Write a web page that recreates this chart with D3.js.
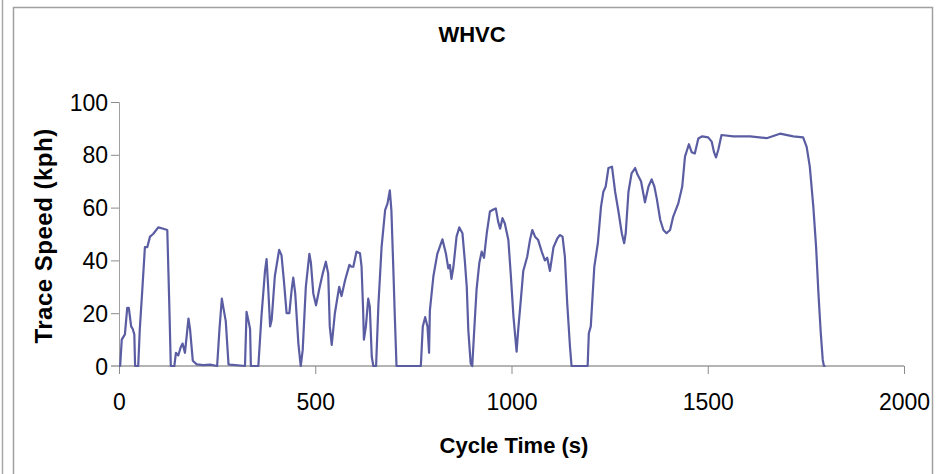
<!DOCTYPE html>
<html>
<head>
<meta charset="utf-8">
<title>WHVC</title>
<script src="https://d3js.org/d3.v7.min.js"></script>
<style type="text/css">
  body { margin: 0; background: #fff; }
  text { font-family: "Liberation Sans", Arial, sans-serif; fill: #000; }
  .tick text { font-size: 23px; }
</style>
</head>
<body>
<svg id="graph" width="944" height="474"></svg>
<script type="text/javascript">

// speed trace (s, kph)
var cycleTime = [0,3,7,15,21,25,31,35,39,41,49,53,59,66,72,79,87,100,113,123,128,132,141,145,151,157,162,168,177,181,188,198,215,232,250,256,262,266,272,279,283,321,325,330,334,336,355,363,372,376,380,385,389,397,408,414,420,427,434,440,444,449,457,463,468,476,485,489,495,502,510,519,527,533,537,542,550,561,567,576,587,592,597,605,614,618,622,624,629,635,639,644,648,655,661,669,678,684,690,694,699,703,707,769,774,780,786,790,792,801,811,824,833,839,843,847,852,860,867,875,881,886,890,896,900,905,911,918,924,930,937,945,954,960,966,971,977,983,992,998,1005,1013,1017,1023,1030,1040,1047,1053,1060,1068,1077,1085,1091,1098,1107,1117,1123,1130,1136,1142,1149,1153,1194,1197,1202,1211,1220,1228,1234,1240,1247,1256,1264,1272,1281,1287,1291,1298,1306,1315,1321,1330,1340,1349,1357,1364,1370,1379,1387,1395,1404,1412,1425,1435,1442,1452,1459,1467,1476,1486,1501,1510,1516,1521,1527,1535,1565,1608,1650,1684,1718,1743,1752,1760,1769,1776,1782,1788,1793,1796,1800]
var traceSpeed = [0,0,10,12,22,22,15,14,12,0,0,14,28,45,45,49,50,52.5,52,51.5,24,0,0,5,4,7,8.5,5,18,14,2,0.6,0.3,0.5,0,14,25.5,22,17,0.6,0.5,0,20.5,17,14,0,0,19,36,40.5,30,15,17.5,34,44,42,32.5,20,20,29,33.5,27.5,8.5,0,6,30,42.5,39,27.5,23,29,35,39.5,35,15,8,20,30,26.5,32.5,38.3,37.6,37.6,43.3,42.7,37.6,21,10,15,25.5,22.5,3.5,0,0,23.5,45,59,61.5,66.5,59,36.5,17.5,0,0,15,18.5,15,5,21,34,42.5,48,42.5,37,38.3,33,37.5,49,52.5,50.3,40,30,13.5,1,0,13.5,29,39,43.3,41,50.3,58.5,59.3,59.7,54.7,52,56,54,47.7,35,18.7,5.4,13.6,23.7,36,41.4,47.7,51.5,49,47.7,43.3,40,41,36,45,48.4,49.6,49,41.4,23.7,7.3,0,0,12.4,15,37.6,46.5,60.3,66,68,75,75.5,66,59,50.3,46.5,50.3,66,73,75,72.5,70,62,68,70.7,68,63.5,55.3,51.5,50.3,51.5,56.6,61.6,68,79.3,84,81,80.5,86.2,87,86.6,85,81,79,82,87.5,87,87,86.3,88,87,86.6,83,75.5,60.3,45.2,27.5,12.4,2.3,0,0]

var xTicks = [0, 500, 1000, 1500, 2000]
var yTicks = [0, 20, 40, 60, 80, 100]
var chartTitle = "WHVC"
var xTitle = "Cycle Time (s)"
var yTitle = "Trace Speed (kph)"

var svg = d3.select("#graph")

// outer frames
svg.append("line")
  .attr("x1", 2.5).attr("x2", 2.5).attr("y1", 0).attr("y2", 474)
  .attr("stroke", "#a8a8a8").attr("stroke-width", 1.5)
svg.append("rect")
  .attr("x", 13.5).attr("y", 7.5).attr("width", 919).attr("height", 480)
  .attr("fill", "none").attr("stroke", "#a0a0a0").attr("stroke-width", 1.5)

var x = d3.scaleLinear().domain([0, 2000]).range([119, 904])
var y = d3.scaleLinear().domain([0, 100]).range([366, 102])

// y axis
var yAxis = svg.append("g")
  .attr("transform", "translate(119,0)")
  .call(d3.axisLeft(y).tickValues(yTicks).tickSize(8).tickPadding(3).tickFormat(d3.format("d")))
yAxis.selectAll("line").attr("stroke", "#8c8c8c")
yAxis.select(".domain").attr("stroke", "#a0a0a0")
yAxis.selectAll("text").attr("dy", "0.35em")

// x axis
var xAxis = svg.append("g")
  .attr("transform", "translate(0,366)")
  .call(d3.axisBottom(x).tickValues(xTicks).tickSize(8).tickPadding(20).tickFormat(d3.format("d")))
xAxis.selectAll("line").attr("stroke", "#8c8c8c")
xAxis.select(".domain").attr("stroke", "#b4b4b4").attr("stroke-width", 2)
  .attr("d", "M111,0H904")

// speed line
var line = d3.line()
  .x((d, i) => x(cycleTime[i]))
  .y(d => y(d))

svg.append("path")
  .datum(traceSpeed)
  .attr("d", line)
  .attr("fill", "none")
  .attr("stroke", "#5a5da2")
  .attr("stroke-width", 2.2)
  .attr("stroke-linejoin", "round")

// titles
svg.append("text")
  .attr("x", 472).attr("y", 42)
  .attr("text-anchor", "middle")
  .style("font-size", "22px").style("font-weight", "bold")
  .text(chartTitle)

svg.append("text")
  .attr("x", 514).attr("y", 453)
  .attr("text-anchor", "middle")
  .style("font-size", "22px").style("font-weight", "bold")
  .text(xTitle)

svg.append("text")
  .attr("transform", "translate(52,236) rotate(-90)")
  .attr("text-anchor", "middle")
  .style("font-size", "24px").style("font-weight", "bold")
  .style("letter-spacing", "0.5px")
  .text(yTitle)

</script>
</body>
</html>
